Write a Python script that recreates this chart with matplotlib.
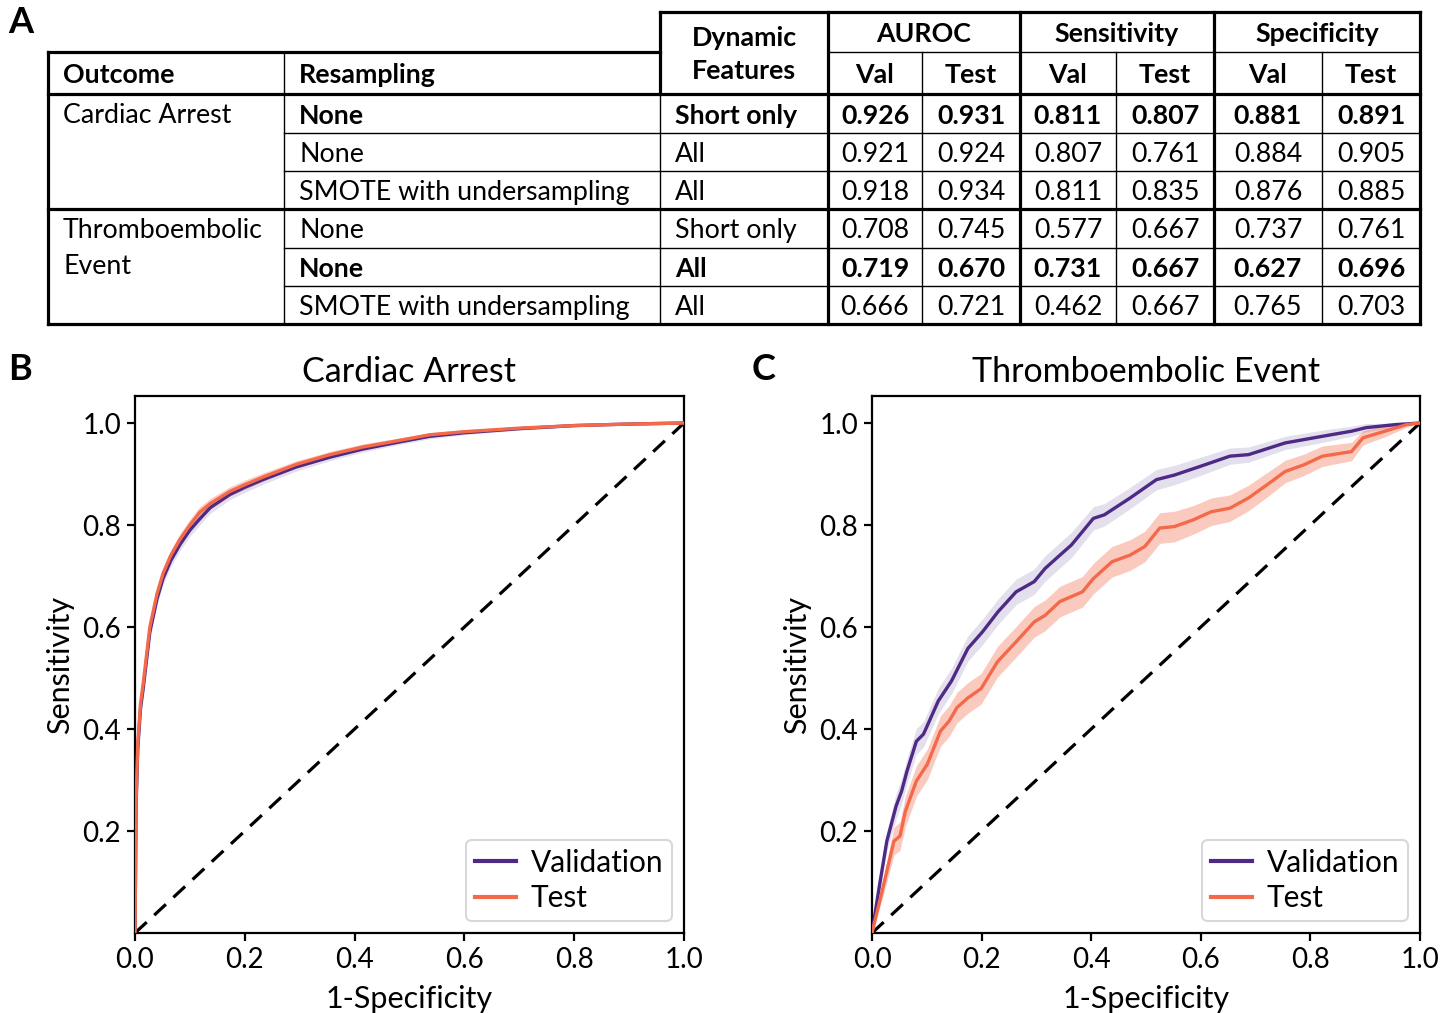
import numpy as np
import matplotlib
matplotlib.use("Agg")
import matplotlib.pyplot as plt

plt.rcParams['font.family'] = ['Lato', 'DejaVu Sans']

# ---- table data (panel A)
outcomes = ["Cardiac Arrest", "Thromboembolic\nEvent"]
resampling = ["None", "None", "SMOTE with undersampling",
              "None", "None", "SMOTE with undersampling"]
dynamic = ["Short only", "All", "All", "Short only", "All", "All"]
metric_names = ["AUROC", "Sensitivity", "Specificity"]
split_names = ["Val", "Test"]
auroc_val = [0.926, 0.921, 0.918, 0.708, 0.719, 0.666]
auroc_test = [0.931, 0.924, 0.934, 0.745, 0.670, 0.721]
sens_val = [0.811, 0.807, 0.811, 0.577, 0.731, 0.462]
sens_test = [0.807, 0.761, 0.835, 0.667, 0.667, 0.667]
spec_val = [0.881, 0.884, 0.876, 0.737, 0.627, 0.765]
spec_test = [0.891, 0.905, 0.885, 0.761, 0.696, 0.703]
bold_rows = [0, 4]

# ---- ROC data (panels B, C)
ca_fpr = [0, 0.002, 0.005, 0.01, 0.015, 0.027, 0.04, 0.051, 0.065, 0.082, 0.1,
          0.118, 0.137, 0.173, 0.2, 0.233, 0.294, 0.355, 0.415, 0.477, 0.537,
          0.6, 0.7, 0.8, 0.9, 1.0]
ca_val_tpr = [0, 0.25, 0.36, 0.44, 0.48, 0.59, 0.655, 0.695, 0.73, 0.762, 0.79,
              0.812, 0.834, 0.86, 0.874, 0.889, 0.914, 0.933, 0.949, 0.962, 0.974,
              0.981, 0.989, 0.995, 0.998, 1.0]
ca_test_tpr = [0, 0.26, 0.37, 0.45, 0.49, 0.60, 0.665, 0.705, 0.74, 0.772, 0.80,
               0.825, 0.842, 0.866, 0.879, 0.894, 0.919, 0.938, 0.953, 0.965, 0.977,
               0.983, 0.99, 0.995, 0.998, 1.0]
ca_val_sd = [0, 0.012, 0.012, 0.012, 0.012, 0.012, 0.012, 0.012, 0.012, 0.012, 0.012,
             0.012, 0.011, 0.01, 0.01, 0.009, 0.008, 0.007, 0.006, 0.005, 0.005,
             0.004, 0.003, 0.002, 0.001, 0]
ca_test_sd = [0, 0.011, 0.011, 0.011, 0.011, 0.011, 0.011, 0.011, 0.011, 0.011, 0.011,
              0.011, 0.01, 0.009, 0.009, 0.008, 0.007, 0.006, 0.006, 0.005, 0.004,
              0.004, 0.003, 0.002, 0.001, 0]

te_val_fpr = [0, 0.013, 0.027, 0.044, 0.054, 0.064, 0.081, 0.094, 0.121, 0.145,
              0.175, 0.202, 0.23, 0.263, 0.296, 0.316, 0.343, 0.364, 0.384, 0.404,
              0.424, 0.471, 0.519, 0.552, 0.599, 0.653, 0.687, 0.754, 0.822, 0.875,
              0.902, 0.956, 1.0]
te_val_tpr = [0, 0.089, 0.18, 0.249, 0.278, 0.318, 0.376, 0.39, 0.455, 0.494,
              0.558, 0.591, 0.63, 0.669, 0.689, 0.715, 0.741, 0.761, 0.787, 0.813,
              0.82, 0.853, 0.889, 0.898, 0.915, 0.935, 0.938, 0.961, 0.974, 0.984,
              0.991, 0.997, 1.0]
te_val_sd = [0, 0.014, 0.02, 0.025, 0.025, 0.025, 0.025, 0.025, 0.025, 0.025,
             0.025, 0.025, 0.025, 0.025, 0.025, 0.025, 0.025, 0.025, 0.024, 0.023,
             0.022, 0.021, 0.02, 0.019, 0.018, 0.016, 0.015, 0.013, 0.012, 0.01,
             0.008, 0.005, 0]

te_test_fpr = [0, 0.02, 0.04, 0.051, 0.061, 0.081, 0.101, 0.125, 0.141, 0.155,
               0.175, 0.199, 0.229, 0.263, 0.296, 0.316, 0.343, 0.384, 0.404, 0.438,
               0.471, 0.498, 0.525, 0.552, 0.586, 0.619, 0.653, 0.687, 0.721, 0.754,
               0.788, 0.822, 0.875, 0.896, 0.936, 0.976, 1.0]
te_test_tpr = [0, 0.089, 0.18, 0.19, 0.239, 0.298, 0.331, 0.396, 0.416, 0.442,
               0.461, 0.479, 0.532, 0.571, 0.61, 0.623, 0.65, 0.669, 0.695, 0.728,
               0.741, 0.758, 0.794, 0.797, 0.81, 0.826, 0.833, 0.853, 0.879, 0.905,
               0.918, 0.935, 0.944, 0.971, 0.984, 0.997, 1.0]
te_test_sd = [0, 0.017, 0.027, 0.028, 0.03, 0.03, 0.03, 0.03, 0.03, 0.03,
              0.03, 0.03, 0.03, 0.03, 0.03, 0.03, 0.03, 0.03, 0.03, 0.03,
              0.03, 0.03, 0.03, 0.03, 0.028, 0.027, 0.026, 0.025, 0.024, 0.022,
              0.021, 0.02, 0.018, 0.014, 0.011, 0.005, 0]

VAL_C = '#4c2a85'
TEST_C = '#f4694a'

W, H = 1455, 1013
fig = plt.figure(figsize=(W / 100, H / 100), dpi=100)

# pixel-space overlay for table + panel letters
tab = fig.add_axes([0, 0, 1, 1])
tab.set_xlim(0, W)
tab.set_ylim(H, 0)
tab.axis('off')

cols = [48, 284, 660, 828, 922, 1020, 1116, 1214, 1322, 1420]
rows = [12, 52, 94, 133, 171, 209, 248, 286, 324]
thick = 2.3
thin = 1.0
fs = 19.3
dy = 2  # small downward nudge of text inside cells


def hline(y, x0, x1, lw):
    tab.plot([x0, x1], [y, y], color='black', lw=lw, solid_capstyle='projecting')


def vline(x, y0, y1, lw):
    tab.plot([x, x], [y0, y1], color='black', lw=lw, solid_capstyle='projecting')


# thin lines first
for y in [rows[3], rows[4], rows[6], rows[7]]:
    hline(y, cols[1], cols[-1], thin)
hline(rows[1], cols[3], cols[-1], thin)
vline(cols[1], rows[1], rows[-1], thin)
vline(cols[2], rows[2], rows[-1], thin)
for x in [cols[4], cols[6], cols[8]]:
    vline(x, rows[1], rows[-1], thin)
# thick lines
hline(rows[0], cols[2], cols[-1], thick)
hline(rows[1], cols[0], cols[2], thick)
hline(rows[2], cols[0], cols[-1], thick)
hline(rows[5], cols[0], cols[-1], thick)
hline(rows[-1], cols[0], cols[-1], thick)
vline(cols[0], rows[1], rows[-1], thick)
vline(cols[-1], rows[0], rows[-1], thick)
vline(cols[2], rows[0], rows[2], thick)
for x in [cols[3], cols[5], cols[7]]:
    vline(x, rows[0], rows[-1], thick)

# headers
hy = (rows[1] + rows[2]) / 2 + dy
tab.text(cols[0] + 15, hy, "Outcome", fontsize=fs, fontweight='bold',
         va='center', ha='left')
tab.text(cols[1] + 15, hy, "Resampling", fontsize=fs, fontweight='bold',
         va='center', ha='left')
tab.text((cols[2] + cols[3]) / 2, (rows[0] + rows[2]) / 2 + 1, "Dynamic\nFeatures",
         fontsize=fs, fontweight='bold', va='center', ha='center', linespacing=1.45)
for k, name in enumerate(metric_names):
    c0 = cols[3 + 2 * k]
    c2 = cols[5 + 2 * k]
    tab.text((c0 + c2) / 2, (rows[0] + rows[1]) / 2 + dy, name, fontsize=fs,
             fontweight='bold', va='center', ha='center')
    for j, sname in enumerate(split_names):
        a, b = cols[3 + 2 * k + j], cols[4 + 2 * k + j]
        tab.text((a + b) / 2, hy, sname, fontsize=fs,
                 fontweight='bold', va='center', ha='center')

# body
tab.text(cols[0] + 15, (rows[2] + rows[3]) / 2 + dy, outcomes[0], fontsize=fs,
         va='center', ha='left')
tab.text(cols[0] + 15, rows[5] + 9, outcomes[1], fontsize=fs,
         va='top', ha='left', linespacing=1.55)
metric_cols = [auroc_val, auroc_test, sens_val, sens_test, spec_val, spec_test]
for i in range(6):
    yc = (rows[2 + i] + rows[3 + i]) / 2 + dy
    fw = 'bold' if i in bold_rows else 'normal'
    tab.text(cols[1] + 15, yc, resampling[i], fontsize=fs, fontweight=fw,
             va='center', ha='left')
    tab.text(cols[2] + 15, yc, dynamic[i], fontsize=fs, fontweight=fw,
             va='center', ha='left')
    for m, vals in enumerate(metric_cols):
        tab.text((cols[3 + m] + cols[4 + m]) / 2, yc, f"{vals[i]:.3f}",
                 fontsize=fs, fontweight=fw, va='center', ha='center')

# panel letters
tab.text(8, 22, "A", fontsize=26, fontweight='bold', va='center', ha='left')
tab.text(8, 369, "B", fontsize=26, fontweight='bold', va='center', ha='left')
tab.text(752, 369, "C", fontsize=26, fontweight='bold', va='center', ha='left')


# ---- ROC panels
def roc_panel(left_px, width_px, title, vfpr, vtpr, vsd, tfpr, ttpr, tsd):
    ax = fig.add_axes([left_px / W, (H - 933) / H, width_px / W, 537 / H])
    ax.plot([0, 1], [0, 1], color='black', lw=2.3, ls=(0, (5, 3.2)), zorder=1)
    vfpr, vtpr, vsd = map(np.array, (vfpr, vtpr, vsd))
    tfpr, ttpr, tsd = map(np.array, (tfpr, ttpr, tsd))
    ax.fill_between(vfpr, np.clip(vtpr - vsd, 0, 1), np.clip(vtpr + vsd, 0, 1),
                    color=VAL_C, alpha=0.15, lw=0, zorder=2)
    ax.fill_between(tfpr, np.clip(ttpr - tsd, 0, 1), np.clip(ttpr + tsd, 0, 1),
                    color=TEST_C, alpha=0.35, lw=0, zorder=3)
    ax.plot(vfpr, vtpr, color=VAL_C, lw=2.4, label='Validation', zorder=4)
    ax.plot(tfpr, ttpr, color=TEST_C, lw=2.4, label='Test', zorder=5)
    ax.set_xlim(0, 1)
    ax.set_ylim(0, 1.053)
    ax.set_xticks([0, 0.2, 0.4, 0.6, 0.8, 1.0])
    ax.set_yticks([0.2, 0.4, 0.6, 0.8, 1.0])
    ax.set_xticklabels(["0.0", "0.2", "0.4", "0.6", "0.8", "1.0"])
    ax.tick_params(labelsize=20, width=1.6, length=6, pad=4)
    for s in ax.spines.values():
        s.set_linewidth(1.6)
    ax.set_xlabel("1-Specificity", fontsize=22, labelpad=9)
    ax.set_ylabel("Sensitivity", fontsize=22, labelpad=6)
    ax.set_title(title, fontsize=24.5, pad=10)
    leg = ax.legend(loc='lower right', fontsize=21.5, handlelength=1.35,
                    handletextpad=0.5, borderpad=0.3, labelspacing=0.25,
                    borderaxespad=0.4,
                    fancybox=True, framealpha=1, edgecolor='#d8d8d8')
    leg.get_frame().set_linewidth(1.5)
    for line in leg.get_lines():
        line.set_linewidth(3.0)
    return ax


roc_panel(135, 549, "Cardiac Arrest", ca_fpr, ca_val_tpr, ca_val_sd,
          ca_fpr, ca_test_tpr, ca_test_sd)
roc_panel(872, 548, "Thromboembolic Event", te_val_fpr, te_val_tpr, te_val_sd,
          te_test_fpr, te_test_tpr, te_test_sd)

fig.savefig("out.png", dpi=100)
